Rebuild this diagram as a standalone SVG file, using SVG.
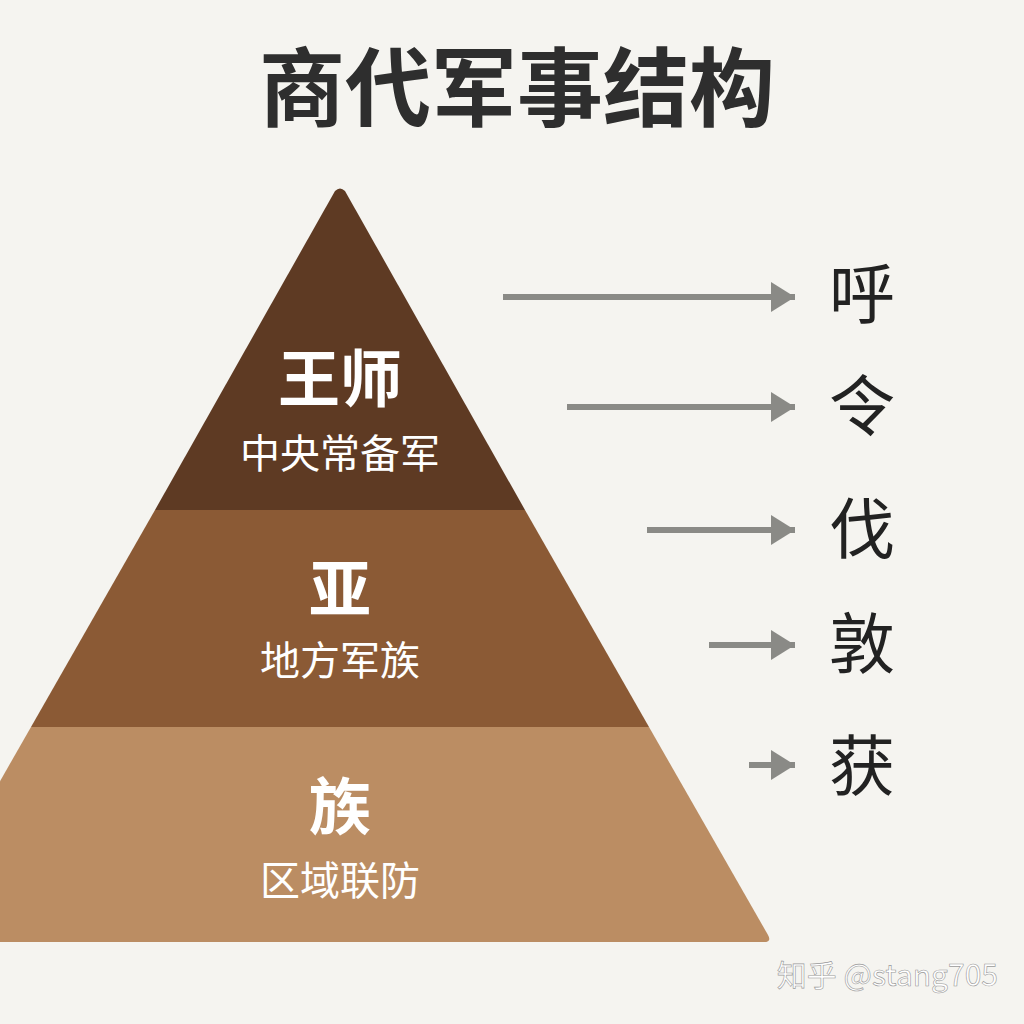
<svg xmlns="http://www.w3.org/2000/svg" width="1024" height="1024" viewBox="0 0 1024 1024">
<style>
.t{font-family:"Noto Sans CJK SC","Noto Sans",sans-serif}
.big{font-size:62px;font-weight:bold;fill:#fff;text-anchor:middle}
.sub{font-size:40px;fill:#fff;text-anchor:middle}
.r{font-size:66px;fill:#222;text-anchor:middle}
.ar{stroke:#8a8a86;stroke-width:6;fill:none}
</style>
<defs><marker id="ah" markerWidth="4" markerHeight="5" refX="4" refY="2.5" orient="auto" markerUnits="strokeWidth"><path d="M0,0L4,2.5L0,5z" fill="#8a8a86"/></marker></defs>
<rect width="1024" height="1024" fill="#f5f4f0"/>
<text class="t" x="517" y="120" font-size="86" font-weight="bold" fill="#2e2e2e" text-anchor="middle">商代军事结构</text>
<g id="top"><path d="M335,191Q340,186 345,191L525,510L155,510Z" fill="#5e3a23"/>
<text class="t big" x="340" y="402">王师</text><text class="t sub" x="340" y="468">中央常备军</text></g>
<g id="mid"><path d="M155,510L525,510L649,727L31,727Z" fill="#8b5a35"/>
<text class="t big" x="340" y="612">亚</text><text class="t sub" x="340" y="675">地方军族</text></g>
<g id="bot"><path d="M31,727L649,727L768,935Q772,942 764,942L-92,942Z" fill="#bb8d63"/>
<text class="t big" x="340" y="830">族</text><text class="t sub" x="340" y="895">区域联防</text></g>
<g id="connectors">
<line class="ar" x1="503" y1="297" x2="795" y2="297" marker-end="url(#ah)"/>
<line class="ar" x1="567" y1="407" x2="795" y2="407" marker-end="url(#ah)"/>
<line class="ar" x1="647" y1="530" x2="795" y2="530" marker-end="url(#ah)"/>
<line class="ar" x1="709" y1="645" x2="795" y2="645" marker-end="url(#ah)"/>
<line class="ar" x1="749" y1="765" x2="795" y2="765" marker-end="url(#ah)"/>
</g>
<g id="labels">
<text class="t r" x="862" y="318">呼</text>
<text class="t r" x="862" y="430">令</text>
<text class="t r" x="862" y="553">伐</text>
<text class="t r" x="862" y="668">敦</text>
<text class="t r" x="862" y="790">获</text>
</g>
<text class="t" x="998" y="986" font-size="30" fill="#fff" stroke="#999" stroke-width="0.6" text-anchor="end">知乎 @stang705</text>
</svg>
